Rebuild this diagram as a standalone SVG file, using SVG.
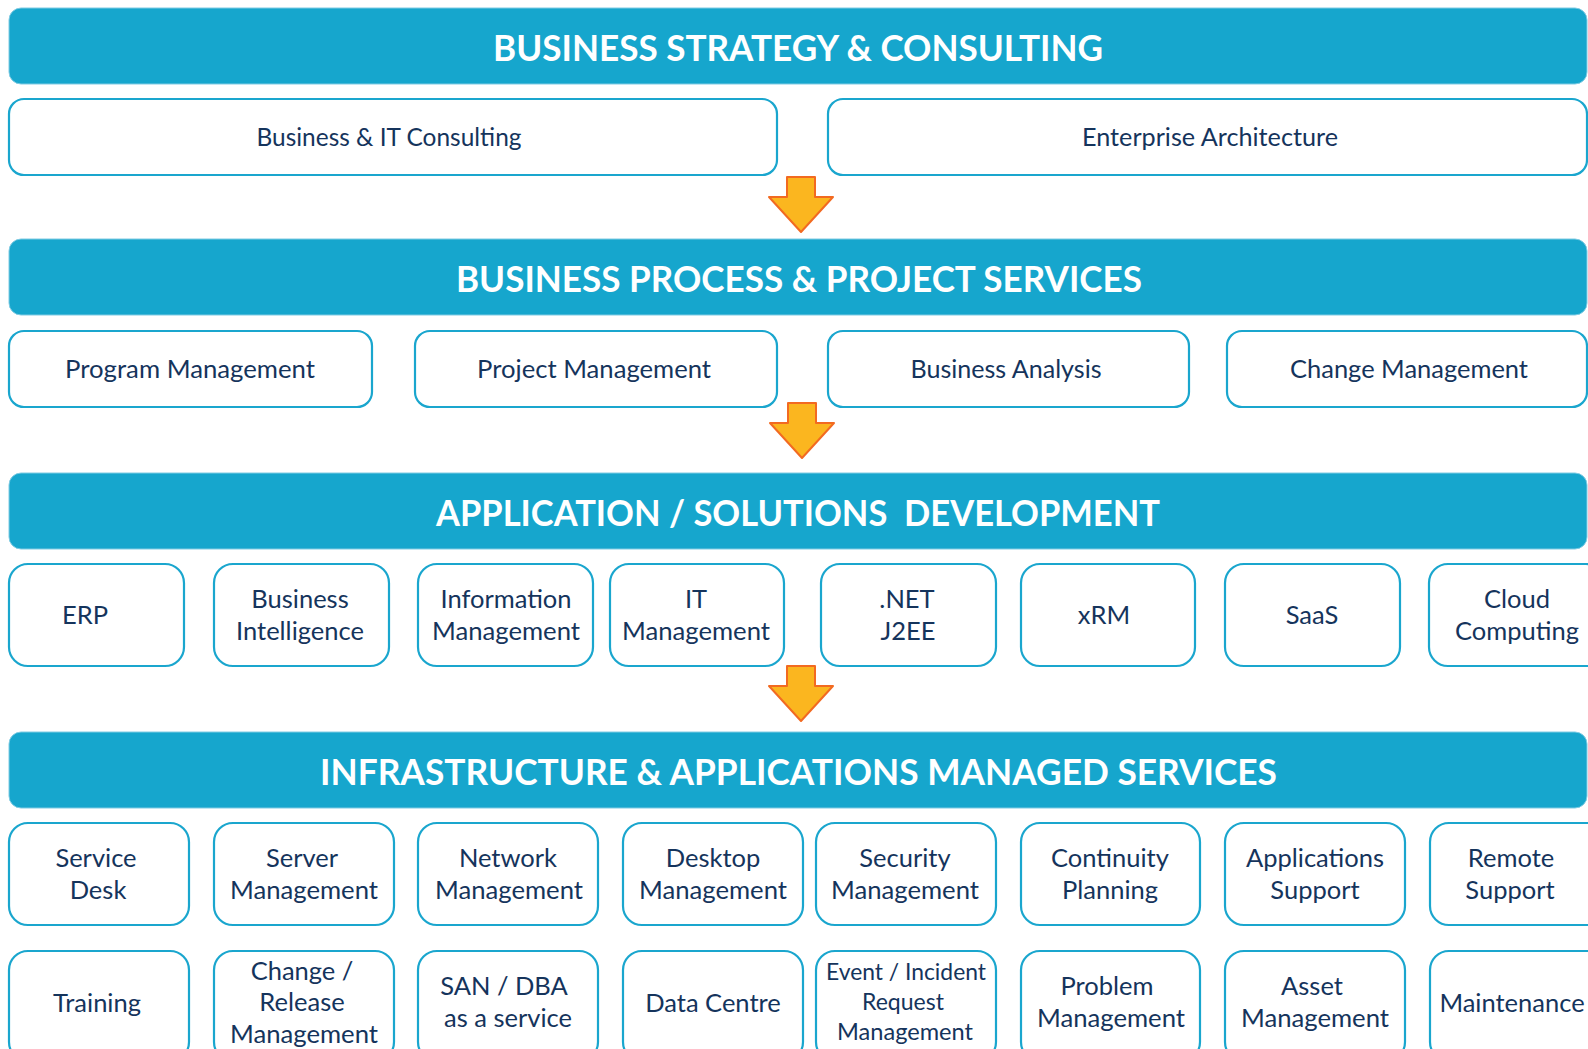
<svg xmlns="http://www.w3.org/2000/svg" width="1588" height="1049" viewBox="0 0 1588 1049">
<style>
.banner{fill:#16A6CD;stroke:#7FCBE3;stroke-width:1}
.bt{font-family:Lato,"Open Sans","Liberation Sans",sans-serif;font-weight:700;font-size:36px;fill:#FFFFFF;text-anchor:middle}
.box{fill:#FFFFFF;stroke:#1AA6CE;stroke-width:2.2}
.lb{font-family:Lato,"Open Sans","Liberation Sans",sans-serif;font-size:25.5px;fill:#15345C;text-anchor:middle}
.sm{font-size:23px}
.arrow{fill:#FBB61F;stroke:#F26A21;stroke-width:2;stroke-linejoin:round}
</style>
<defs>
<path id="arr" d="M-14,0 H14 V20 H32 L0,55 L-32,20 H-14 Z"/>
</defs>
<rect width="1588" height="1049" fill="#FFFFFF"/>

<g id="banner-strategy"><rect class="banner" x="9" y="8" width="1578" height="76" rx="12"/><text class="bt" x="798" y="61" textLength="610" lengthAdjust="spacingAndGlyphs">BUSINESS STRATEGY &amp; CONSULTING</text></g>
<g id="n-bitc"><rect class="box" x="9" y="99" width="768" height="76" rx="15"/><text class="lb" x="389" y="146" textLength="265" lengthAdjust="spacingAndGlyphs">Business &amp; IT Consulting</text></g>
<g id="n-ea"><rect class="box" x="828" y="99" width="759" height="76" rx="15"/><text class="lb" x="1210" y="146" textLength="256" lengthAdjust="spacingAndGlyphs">Enterprise Architecture</text></g>

<g id="banner-process"><rect class="banner" x="9" y="239" width="1578" height="76" rx="12"/><text class="bt" x="799" y="292" textLength="686" lengthAdjust="spacingAndGlyphs">BUSINESS PROCESS &amp; PROJECT SERVICES</text></g>
<g id="n-prog"><rect class="box" x="9" y="331" width="363" height="76" rx="15"/><text class="lb" x="190" y="378" textLength="250" lengthAdjust="spacingAndGlyphs">Program Management</text></g>
<g id="n-proj"><rect class="box" x="415" y="331" width="362" height="76" rx="15"/><text class="lb" x="594" y="378" textLength="234" lengthAdjust="spacingAndGlyphs">Project Management</text></g>
<g id="n-ba"><rect class="box" x="828" y="331" width="361" height="76" rx="15"/><text class="lb" x="1006" y="378" textLength="191" lengthAdjust="spacingAndGlyphs">Business Analysis</text></g>
<g id="n-cm"><rect class="box" x="1227" y="331" width="360" height="76" rx="15"/><text class="lb" x="1409" y="378" textLength="238" lengthAdjust="spacingAndGlyphs">Change Management</text></g>

<g id="banner-app"><rect class="banner" x="9" y="473" width="1578" height="76" rx="12"/><text class="bt" x="798" y="526" textLength="724" lengthAdjust="spacingAndGlyphs" style="white-space:pre">APPLICATION / SOLUTIONS  DEVELOPMENT</text></g>
<g id="n-erp"><rect class="box" x="9" y="564" width="175" height="102" rx="19"/><text class="lb" x="85" y="624">ERP</text></g>
<g id="n-bi"><rect class="box" x="214" y="564" width="175" height="102" rx="19"/><text class="lb" x="300" y="608">Business</text><text class="lb" x="300" y="640">Intelligence</text></g>
<g id="n-im"><rect class="box" x="418" y="564" width="175" height="102" rx="19"/><text class="lb" x="506" y="608">Information</text><text class="lb" x="506" y="640" textLength="148" lengthAdjust="spacingAndGlyphs">Management</text></g>
<g id="n-itm"><rect class="box" x="610" y="564" width="174" height="102" rx="19"/><text class="lb" x="696" y="608">IT</text><text class="lb" x="696" y="640" textLength="148" lengthAdjust="spacingAndGlyphs">Management</text></g>
<g id="n-net"><rect class="box" x="821" y="564" width="175" height="102" rx="19"/><text class="lb" x="907" y="608">.NET</text><text class="lb" x="908" y="640">J2EE</text></g>
<g id="n-xrm"><rect class="box" x="1021" y="564" width="174" height="102" rx="19"/><text class="lb" x="1104" y="624">xRM</text></g>
<g id="n-saas"><rect class="box" x="1225" y="564" width="175" height="102" rx="19"/><text class="lb" x="1312" y="624">SaaS</text></g>
<g id="n-cloud"><rect class="box" x="1429" y="564" width="176" height="102" rx="19"/><text class="lb" x="1517" y="608">Cloud</text><text class="lb" x="1517" y="640">Computing</text></g>

<g id="banner-infra"><rect class="banner" x="9" y="732" width="1578" height="76" rx="12"/><text class="bt" x="798.5" y="785" textLength="957" lengthAdjust="spacingAndGlyphs">INFRASTRUCTURE &amp; APPLICATIONS MANAGED SERVICES</text></g>
<g id="n-sd"><rect class="box" x="9" y="823" width="180" height="102" rx="19"/><text class="lb" x="96" y="867">Service</text><text class="lb" x="98" y="899">Desk</text></g>
<g id="n-srv"><rect class="box" x="214" y="823" width="180" height="102" rx="19"/><text class="lb" x="302" y="867">Server</text><text class="lb" x="304" y="899" textLength="148" lengthAdjust="spacingAndGlyphs">Management</text></g>
<g id="n-net2"><rect class="box" x="418" y="823" width="180" height="102" rx="19"/><text class="lb" x="508" y="867">Network</text><text class="lb" x="509" y="899" textLength="148" lengthAdjust="spacingAndGlyphs">Management</text></g>
<g id="n-desk"><rect class="box" x="623" y="823" width="180" height="102" rx="19"/><text class="lb" x="713" y="867">Desktop</text><text class="lb" x="713" y="899" textLength="148" lengthAdjust="spacingAndGlyphs">Management</text></g>
<g id="n-sec"><rect class="box" x="816" y="823" width="180" height="102" rx="19"/><text class="lb" x="905" y="867">Security</text><text class="lb" x="905" y="899" textLength="148" lengthAdjust="spacingAndGlyphs">Management</text></g>
<g id="n-cont"><rect class="box" x="1021" y="823" width="179" height="102" rx="19"/><text class="lb" x="1110" y="867">Continuity</text><text class="lb" x="1110" y="899">Planning</text></g>
<g id="n-apps"><rect class="box" x="1225" y="823" width="180" height="102" rx="19"/><text class="lb" x="1315" y="867">Applications</text><text class="lb" x="1315" y="899">Support</text></g>
<g id="n-rem"><rect class="box" x="1430" y="823" width="180" height="102" rx="19"/><text class="lb" x="1511" y="867">Remote</text><text class="lb" x="1510" y="899">Support</text></g>

<g id="n-train"><rect class="box" x="9" y="951" width="180" height="110" rx="19"/><text class="lb" x="97" y="1012">Training</text></g>
<g id="n-chg"><rect class="box" x="214" y="951" width="180" height="110" rx="19"/><text class="lb" x="302" y="980">Change /</text><text class="lb" x="302" y="1011">Release</text><text class="lb" x="304" y="1043" textLength="148" lengthAdjust="spacingAndGlyphs">Management</text></g>
<g id="n-san"><rect class="box" x="418" y="951" width="180" height="110" rx="19"/><text class="lb" x="504" y="995">SAN / DBA</text><text class="lb" x="508" y="1027">as a service</text></g>
<g id="n-dc"><rect class="box" x="623" y="951" width="180" height="110" rx="19"/><text class="lb" x="713" y="1012">Data Centre</text></g>
<g id="n-evt"><rect class="box" x="816" y="951" width="180" height="110" rx="19"/><text class="lb sm" x="906" y="980" textLength="160" lengthAdjust="spacingAndGlyphs">Event / Incident</text><text class="lb sm" x="903" y="1010">Request</text><text class="lb sm" x="905" y="1040" textLength="136" lengthAdjust="spacingAndGlyphs">Management</text></g>
<g id="n-prob"><rect class="box" x="1021" y="951" width="179" height="110" rx="19"/><text class="lb" x="1107" y="995">Problem</text><text class="lb" x="1111" y="1027" textLength="148" lengthAdjust="spacingAndGlyphs">Management</text></g>
<g id="n-asset"><rect class="box" x="1225" y="951" width="180" height="110" rx="19"/><text class="lb" x="1312" y="995">Asset</text><text class="lb" x="1315" y="1027" textLength="148" lengthAdjust="spacingAndGlyphs">Management</text></g>
<g id="n-maint"><rect class="box" x="1430" y="951" width="180" height="110" rx="19"/><text class="lb" x="1512" y="1012">Maintenance</text></g>

<g id="connectors">
<use href="#arr" class="arrow" transform="translate(801,177)"/>
<use href="#arr" class="arrow" transform="translate(802,403)"/>
<use href="#arr" class="arrow" transform="translate(801,666)"/>
</g>
</svg>
